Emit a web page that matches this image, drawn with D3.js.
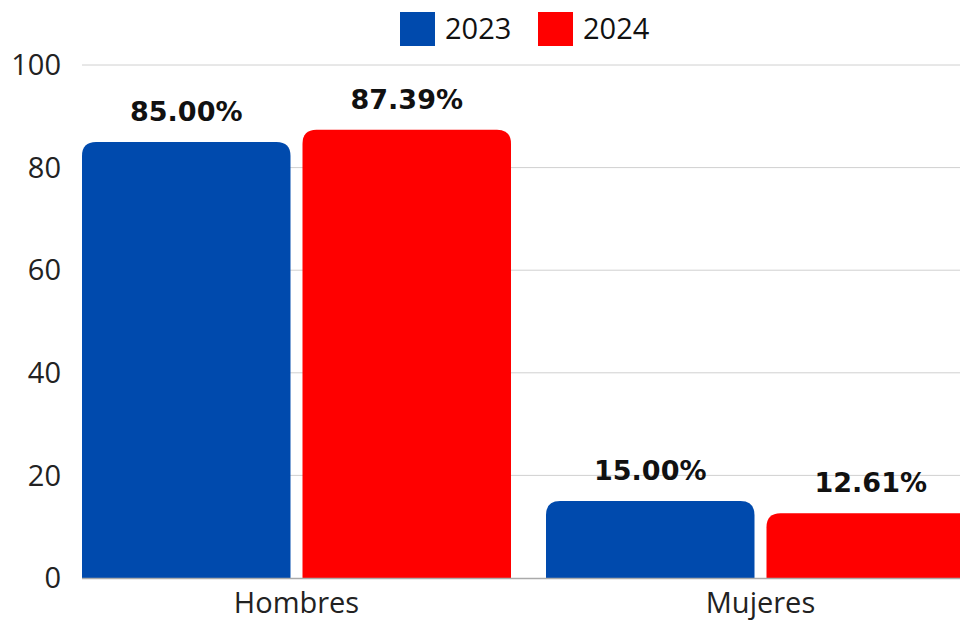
<!DOCTYPE html>
<html><head><meta charset="utf-8">
<script src="https://cdn.jsdelivr.net/npm/d3@7"></script>
<style>html,body{margin:0;padding:0;background:#fff;overflow:hidden}</style>
</head><body>
<script>
const categories = ["Hombres", "Mujeres"];
const seriesNames = ["2023", "2024"];
const values2023 = [85.00, 15.00];
const values2024 = [87.39, 12.61];
const yTicks = [0, 20, 40, 60, 80, 100];
const colors = ["#004aad", "#ff0000"];

const W = 960, H = 621;
const svg = d3.select("body").append("svg").attr("width", W).attr("height", H)
  .style("font-family", "'Open Sans', sans-serif");

const plotLeft = 82, plotRight = 960, plotTop = 65, plotBottom = 578;
const y = d3.scaleLinear().domain([0, 100]).range([plotBottom, plotTop]);
const x0 = d3.scaleBand().domain(categories).range([64.5, 992.5])
  .paddingInner(35/464).paddingOuter(17.5/464);
const x1 = d3.scaleBand().domain(seriesNames).range([0, x0.bandwidth()]).paddingInner(12/220.5);

svg.append("defs").append("clipPath").attr("id","clip")
  .append("rect").attr("x", plotLeft).attr("y", 0).attr("width", plotRight - plotLeft).attr("height", H);

// gridlines
svg.append("g").selectAll("line").data(yTicks.filter(d => d > 0)).join("line")
  .attr("x1", plotLeft).attr("x2", plotRight)
  .attr("y1", d => y(d)).attr("y2", d => y(d))
  .attr("stroke", "#d0d0d0").attr("stroke-width", 1);

// y labels
svg.append("g").selectAll("text").data(yTicks).join("text")
  .attr("x", 61).attr("y", d => y(d)).attr("dy", "0.35em")
  .attr("text-anchor", "end").attr("font-size", 29).attr("fill", "#222")
  .text(d => d);

const data = categories.map((c, i) => ({cat: c, vals: [values2023[i], values2024[i]]}));
const r = 14;
function barPath(x, w, yt, yb) {
  const rr = Math.min(r, (yb - yt), w / 2);
  return `M${x},${yb}V${yt + rr}Q${x},${yt} ${x + rr},${yt}H${x + w - rr}Q${x + w},${yt} ${x + w},${yt + rr}V${yb}Z`;
}

const g = svg.append("g").attr("clip-path", "url(#clip)");
data.forEach(d => {
  d.vals.forEach((v, j) => {
    const bx = x0(d.cat) + x1(seriesNames[j]);
    g.append("path")
      .attr("d", barPath(bx, x1.bandwidth(), y(v), y(0)))
      .attr("fill", colors[j]);
  });
});

// baseline
svg.append("line").attr("x1", plotLeft).attr("x2", plotRight)
  .attr("y1", y(0) + 0.5).attr("y2", y(0) + 0.5).attr("stroke", "#aaa").attr("stroke-width", 1.5);

// value labels
data.forEach(d => {
  d.vals.forEach((v, j) => {
    const cx = x0(d.cat) + x1(seriesNames[j]) + x1.bandwidth() / 2;
    svg.append("text")
      .attr("x", cx).attr("y", y(v) - 21)
      .attr("text-anchor", "middle")
      .attr("font-family", "'DejaVu Sans', sans-serif")
      .attr("font-weight", "bold").attr("font-size", 27)
      .attr("fill", "#111")
      .text(v.toFixed(2) + "%");
  });
});

// category labels
svg.append("g").selectAll("text").data(categories).join("text")
  .attr("x", d => x0(d) + x0.bandwidth() / 2).attr("y", 613)
  .attr("text-anchor", "middle").attr("font-size", 29).attr("fill", "#222")
  .text(d => d);

// legend
const legendX = [400, 538];
seriesNames.forEach((s, i) => {
  svg.append("rect").attr("x", legendX[i]).attr("y", 12).attr("width", 35).attr("height", 34)
    .attr("fill", colors[i]);
  svg.append("text").attr("x", legendX[i] + 45).attr("y", 29).attr("dy", "0.35em")
    .attr("font-size", 29).attr("fill", "#111").text(s);
});
</script>
</body></html>
